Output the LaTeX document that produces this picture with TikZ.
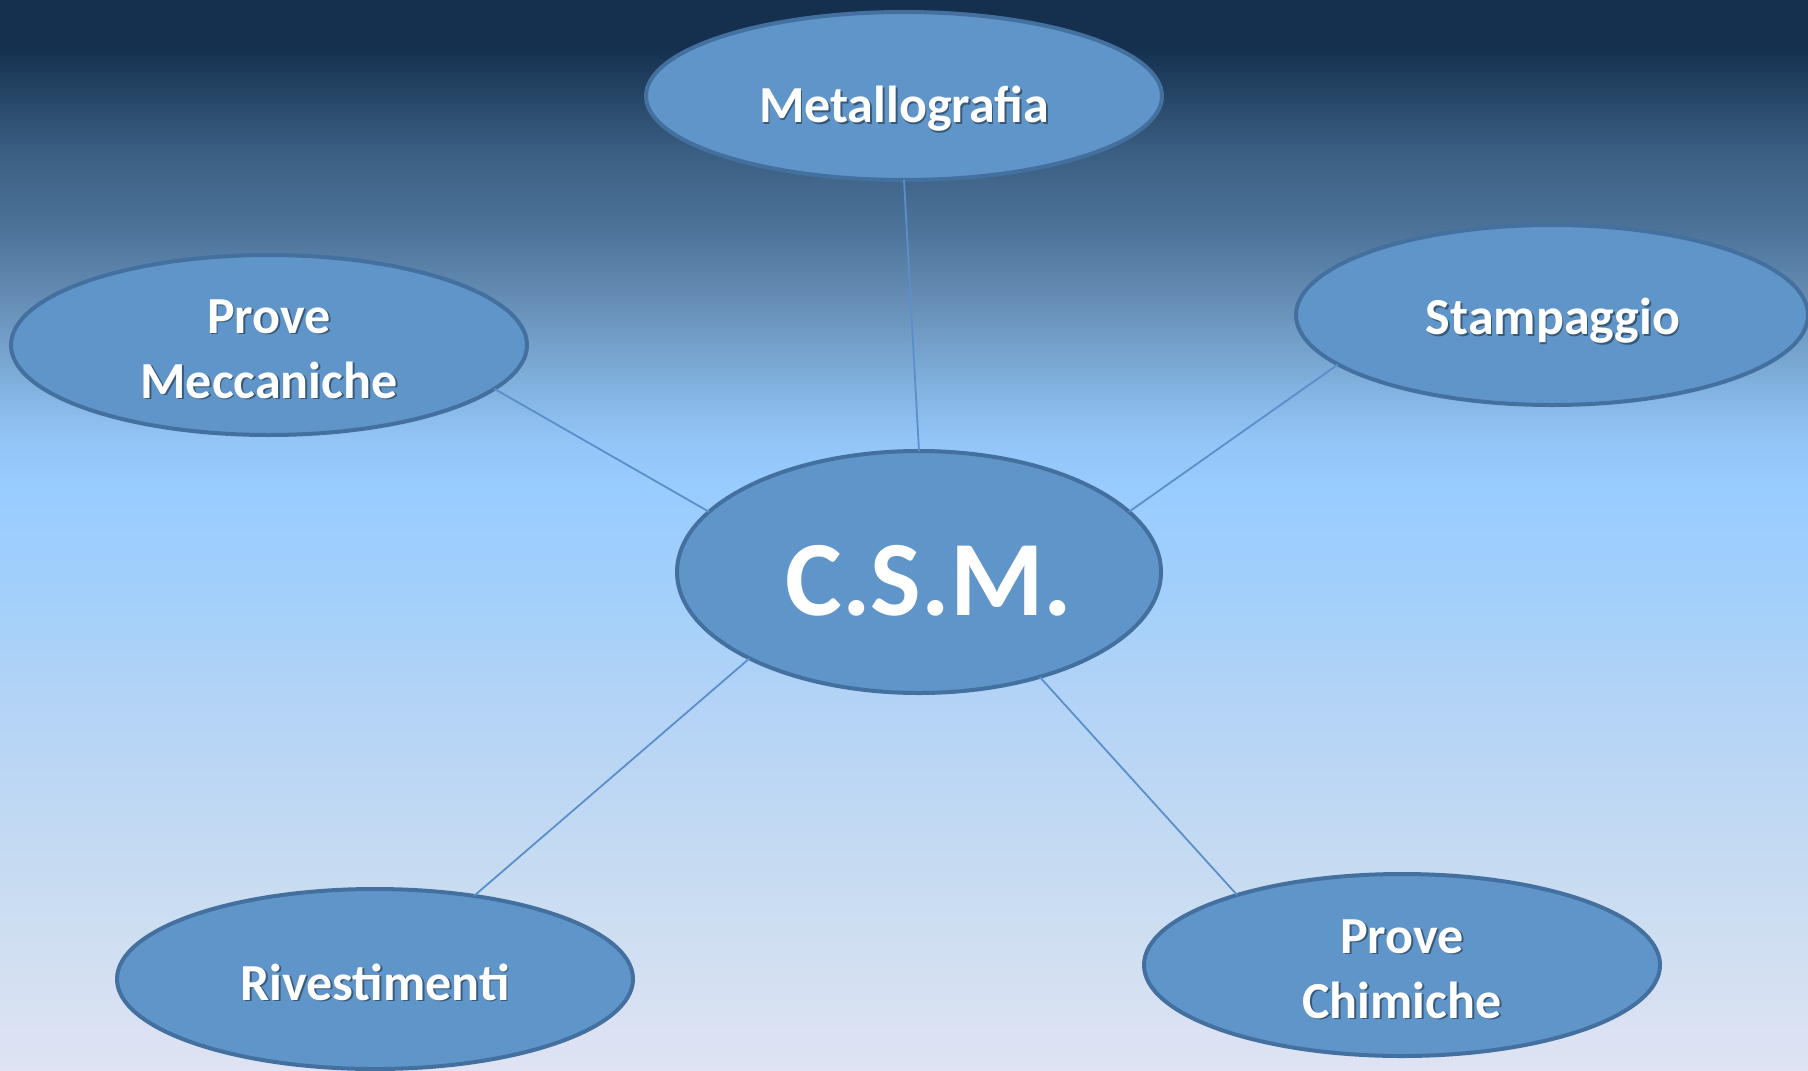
\documentclass[tikz,border=0pt]{standalone}
\usepackage{fontspec}
\setmainfont{Carlito}
\usetikzlibrary{shapes.geometric,calc}
\definecolor{bgA}{HTML}{DFE3F3}
\definecolor{bgB}{HTML}{CADDF1}
\definecolor{bgC}{HTML}{B3D3F6}
\definecolor{bgC2}{HTML}{A3D0FA}
\definecolor{bgD}{HTML}{99CCFF}
\definecolor{bgE}{HTML}{93C5F7}
\definecolor{bgE2}{HTML}{80B0DD}
\definecolor{bgF}{HTML}{6890B8}
\definecolor{bgG}{HTML}{4D7399}
\definecolor{bgH}{HTML}{3A5F82}
\definecolor{bgI}{HTML}{15304F}
\definecolor{bubblefill}{HTML}{5F95C8}
\definecolor{bubbleline}{HTML}{44709F}
\definecolor{linkcol}{HTML}{5B8FCB}
\pgfdeclareverticalshading{bgshade}{100bp}{color(0bp)=(bgA); color(25bp)=(bgA); color(32.94bp)=(bgB); color(42.29bp)=(bgC); color(46.96bp)=(bgC2); color(52.1bp)=(bgD); color(54.44bp)=(bgE); color(57.1bp)=(bgE2); color(60.7bp)=(bgF); color(64.25bp)=(bgG); color(67.85bp)=(bgH); color(72.85bp)=(bgI); color(75bp)=(bgI); color(100bp)=(bgI)}
\newcommand\shlabel[3]{%
  \node[lblshadow] (#1s) at ($#2+(1.8,1.8)$) {#3};
  \node[lbl] (#1) at #2 {#3};}
\begin{document}
\begin{tikzpicture}[x=0.5pt,y=-0.5pt,
  bubble/.style={ellipse, draw=bubbleline, line width=2pt, fill=bubblefill, inner sep=0pt, outer sep=0pt},
  lbl/.style={text=white, font=\bfseries\fontsize{26}{32.5}\selectfont, align=center, inner sep=0pt},
  lblshadow/.style={lbl, text=black, text opacity=0.4},
  biglbl/.style={text=white, font=\bfseries\fontsize{53.5}{60}\selectfont, inner sep=0pt},
  link/.style={draw=linkcol, line width=0.9pt}]
\useasboundingbox (0,0) rectangle (1808,1070);
\shade[shading=bgshade] (0,0) rectangle (1808,1070);
% ellipses
\node[bubble, minimum width=258pt, minimum height=84pt] (met) at (904,96) {};
\node[bubble, minimum width=258pt, minimum height=90pt] (pm) at (269,345) {};
\node[bubble, minimum width=256pt, minimum height=90pt] (st) at (1552,315) {};
\node[bubble, minimum width=242pt, minimum height=121pt] (csm) at (919,572) {};
\node[bubble, minimum width=258pt, minimum height=90pt] (riv) at (375,979) {};
\node[bubble, minimum width=258pt, minimum height=91pt] (pc) at (1402,965) {};
% connectors
\draw[link] (met.-90) -- (csm.90);
\draw[link] (pm.-11.7) -- (csm.164);
\draw[link] (st.193) -- (csm.16);
\draw[link] (csm.207) -- (riv.40);
\draw[link] (csm.-41.4) -- (pc.157.5);
% labels
\shlabel{metT}{(904,108.5)}{Metallografia}
\shlabel{pmT}{(269,349)}{Prove\\Meccaniche}
\shlabel{stT}{(1553,320.5)}{Stampaggio}
\shlabel{rivT}{(375,982)}{Rivestimenti}
\shlabel{pcT}{(1402,969)}{Prove\\Chimiche}
\node[biglbl] (csmT) at (929,581) {C.S.M.};
\end{tikzpicture}
\end{document}
